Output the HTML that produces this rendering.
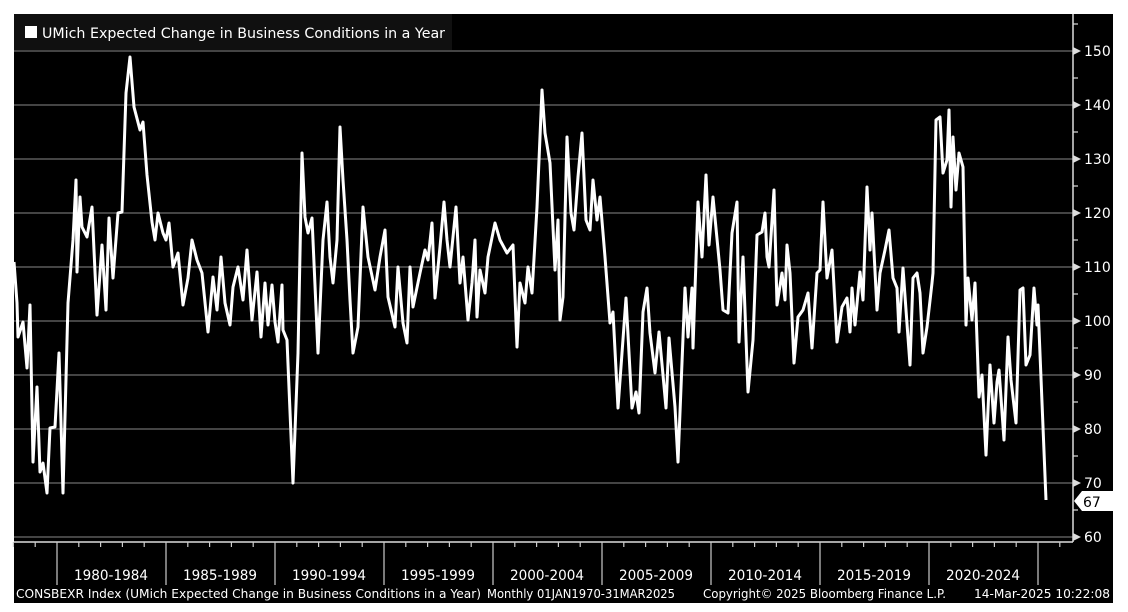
<!DOCTYPE html>
<html><head><meta charset="utf-8"><style>
html,body{margin:0;padding:0;background:#fff;}
svg{display:block;}
text{font-family:"DejaVu Sans","Liberation Sans",sans-serif;}
</style></head><body>
<svg width="1128" height="612" viewBox="0 0 1128 612" xmlns="http://www.w3.org/2000/svg">
<rect x="14" y="14" width="1099" height="589" fill="#000"/>
<g stroke="#5a5a5a" stroke-width="1.5">
<line x1="14" y1="51" x2="1073" y2="51"/>
<line x1="14" y1="105" x2="1073" y2="105"/>
<line x1="14" y1="159" x2="1073" y2="159"/>
<line x1="14" y1="213" x2="1073" y2="213"/>
<line x1="14" y1="267" x2="1073" y2="267"/>
<line x1="14" y1="321" x2="1073" y2="321"/>
<line x1="14" y1="375" x2="1073" y2="375"/>
<line x1="14" y1="429" x2="1073" y2="429"/>
<line x1="14" y1="483" x2="1073" y2="483"/>
<line x1="14" y1="537" x2="1073" y2="537"/>
</g>
<rect x="14" y="14" width="438" height="36" fill="#101010"/>
<rect x="25" y="26" width="12" height="12" fill="#fff"/>
<text x="42" y="38" fill="#fff" font-size="14.5" textLength="403" lengthAdjust="spacingAndGlyphs">UMich Expected Change in Business Conditions in a Year</text>
<polyline fill="none" stroke="#fff" stroke-width="3" stroke-linejoin="round" points="
14,262 17,303 18,337 23,322 27,368 30,305 33,462 37,387 40,472 43,463 47,493 50,428 55,427 59,353 63,493 68,303 73,240 76,180 77,272 80,197 82,227 87,237 92,207 97,315 102,245 106,310 109,218 113,278 118,213 122,212 126,93 130,57 134,107 140,130 143,122 147,175 152,222 155,240 158,213 163,233 166,240 169,223 173,267 178,253 183,305 188,278 192,240 197,260 202,273 208,332 213,277 217,310 221,257 225,303 230,325 233,287 238,267 243,300 247,250 252,320 257,272 261,337 265,283 268,325 272,285 275,322 278,342 282,285 283,330 287,340 293,483 298,353 302,153 305,217 308,233 312,218 318,353 323,240 327,202 330,257 333,283 337,240 340,127 343,180 347,240 350,300 353,353 358,327 363,207 368,257 375,290 380,257 385,230 388,297 395,327 398,267 403,323 407,343 410,267 413,307 420,273 425,250 428,260 432,223 435,298 440,247 444,202 447,240 450,267 456,207 460,283 463,257 468,320 472,283 475,240 477,317 480,270 485,293 488,257 495,223 500,240 507,253 513,245 517,347 520,283 525,303 528,267 532,293 537,207 542,90 545,133 550,163 555,270 558,220 560,320 563,297 567,137 571,213 574,230 578,177 582,133 586,220 590,230 593,180 597,220 600,197 605,257 610,323 613,312 618,408 622,353 626,298 632,408 636,392 639,413 643,312 647,288 650,333 655,373 659,332 663,375 666,408 669,338 675,407 678,462 685,288 688,337 692,288 693,348 698,202 702,257 706,175 709,245 713,197 720,270 723,310 728,313 732,233 737,202 739,342 743,257 748,392 753,340 757,235 762,232 765,213 767,257 769,267 774,190 777,305 782,273 785,300 787,245 790,273 794,363 798,317 803,310 808,293 812,348 817,273 820,270 823,202 827,278 832,250 837,342 842,307 847,298 850,332 852,288 855,325 860,272 863,300 867,187 870,250 872,213 877,310 880,273 885,250 889,230 893,278 897,288 899,332 903,268 906,310 910,365 913,278 917,273 920,293 923,353 927,327 932,283 933,273 936,120 940,117 943,173 947,160 949,110 951,207 953,137 956,190 959,153 963,167 966,325 968,278 972,320 975,283 979,397 982,375 986,455 990,365 994,423 997,382 999,370 1004,440 1008,337 1011,380 1016,423 1020,290 1023,288 1026,365 1030,355 1034,288 1037,325 1038,305 1046,500"/>
<g stroke="#ddd" stroke-width="1.5">
<line x1="1073" y1="14" x2="1073" y2="542"/>
<line x1="14" y1="542" x2="1073" y2="542"/>
</g>
<g fill="#ddd">
<polygon points="1073,47 1081,51 1073,55"/><polygon points="1073,101 1081,105 1073,109"/>
<polygon points="1073,155 1081,159 1073,163"/><polygon points="1073,209 1081,213 1073,217"/>
<polygon points="1073,263 1081,267 1073,271"/><polygon points="1073,317 1081,321 1073,325"/>
<polygon points="1073,371 1081,375 1073,379"/><polygon points="1073,425 1081,429 1073,433"/>
<polygon points="1073,479 1081,483 1073,487"/><polygon points="1073,533 1081,537 1073,541"/>
</g>
<g stroke="#ddd" stroke-width="1.2">
<line x1="1073" y1="24" x2="1078" y2="24"/><line x1="1073" y1="78" x2="1078" y2="78"/>
<line x1="1073" y1="132" x2="1078" y2="132"/><line x1="1073" y1="186" x2="1078" y2="186"/>
<line x1="1073" y1="240" x2="1078" y2="240"/><line x1="1073" y1="294" x2="1078" y2="294"/>
<line x1="1073" y1="348" x2="1078" y2="348"/><line x1="1073" y1="402" x2="1078" y2="402"/>
<line x1="1073" y1="456" x2="1078" y2="456"/><line x1="1073" y1="510" x2="1078" y2="510"/>
</g>
<g fill="#fff" font-size="14">
<text x="1084" y="56">150</text><text x="1084" y="110">140</text><text x="1084" y="164">130</text>
<text x="1084" y="218">120</text><text x="1084" y="272">110</text><text x="1084" y="326">100</text>
<text x="1084" y="380">90</text><text x="1084" y="434">80</text><text x="1084" y="488">70</text>
<text x="1084" y="542">60</text>
</g>
<polygon points="1074,501 1082,491 1113,491 1113,511 1082,511" fill="#fff"/>
<text x="1083" y="507" fill="#000" font-size="14">67</text>
<g stroke="#ccc" stroke-width="1.2">
<line x1="57" y1="542" x2="57" y2="585"/><line x1="166" y1="542" x2="166" y2="585"/>
<line x1="275" y1="542" x2="275" y2="585"/><line x1="384" y1="542" x2="384" y2="585"/>
<line x1="493" y1="542" x2="493" y2="585"/><line x1="602" y1="542" x2="602" y2="585"/>
<line x1="711" y1="542" x2="711" y2="585"/><line x1="820" y1="542" x2="820" y2="585"/>
<line x1="929" y1="542" x2="929" y2="585"/><line x1="1038" y1="542" x2="1038" y2="585"/>
</g>
<g stroke="#ccc" stroke-width="1.2">
<path d="M13.4,542v5M35.2,542v5M78.8,542v5M100.6,542v5M122.4,542v5M144.2,542v5M187.8,542v5M209.6,542v5M231.4,542v5M253.2,542v5M296.8,542v5M318.6,542v5M340.4,542v5M362.2,542v5M405.8,542v5M427.6,542v5M449.4,542v5M471.2,542v5M514.8,542v5M536.6,542v5M558.4,542v5M580.2,542v5M623.8,542v5M645.6,542v5M667.4,542v5M689.2,542v5M732.8,542v5M754.6,542v5M776.4,542v5M798.2,542v5M841.8,542v5M863.6,542v5M885.4,542v5M907.2,542v5M950.8,542v5M972.6,542v5M994.4,542v5M1016.2,542v5M1059.8,542v5"/>
</g>
<g fill="#fff" font-size="14.5">
<text x="74" y="580" textLength="74" lengthAdjust="spacingAndGlyphs">1980-1984</text>
<text x="183" y="580" textLength="74" lengthAdjust="spacingAndGlyphs">1985-1989</text>
<text x="292" y="580" textLength="74" lengthAdjust="spacingAndGlyphs">1990-1994</text>
<text x="401" y="580" textLength="74" lengthAdjust="spacingAndGlyphs">1995-1999</text>
<text x="510" y="580" textLength="74" lengthAdjust="spacingAndGlyphs">2000-2004</text>
<text x="619" y="580" textLength="74" lengthAdjust="spacingAndGlyphs">2005-2009</text>
<text x="728" y="580" textLength="74" lengthAdjust="spacingAndGlyphs">2010-2014</text>
<text x="837" y="580" textLength="74" lengthAdjust="spacingAndGlyphs">2015-2019</text>
<text x="946" y="580" textLength="74" lengthAdjust="spacingAndGlyphs">2020-2024</text>
</g>
<g fill="#fff" font-size="12.5">
<text x="16" y="598" textLength="465" lengthAdjust="spacingAndGlyphs">CONSBEXR Index (UMich Expected Change in Business Conditions in a Year)</text>
<text x="487" y="598" textLength="188" lengthAdjust="spacingAndGlyphs">Monthly 01JAN1970-31MAR2025</text>
<text x="703" y="598" textLength="243" lengthAdjust="spacingAndGlyphs">Copyright© 2025 Bloomberg Finance L.P.</text>
<text x="974" y="598" textLength="136" lengthAdjust="spacingAndGlyphs">14-Mar-2025 10:22:08</text>
</g>
</svg>
</body></html>
